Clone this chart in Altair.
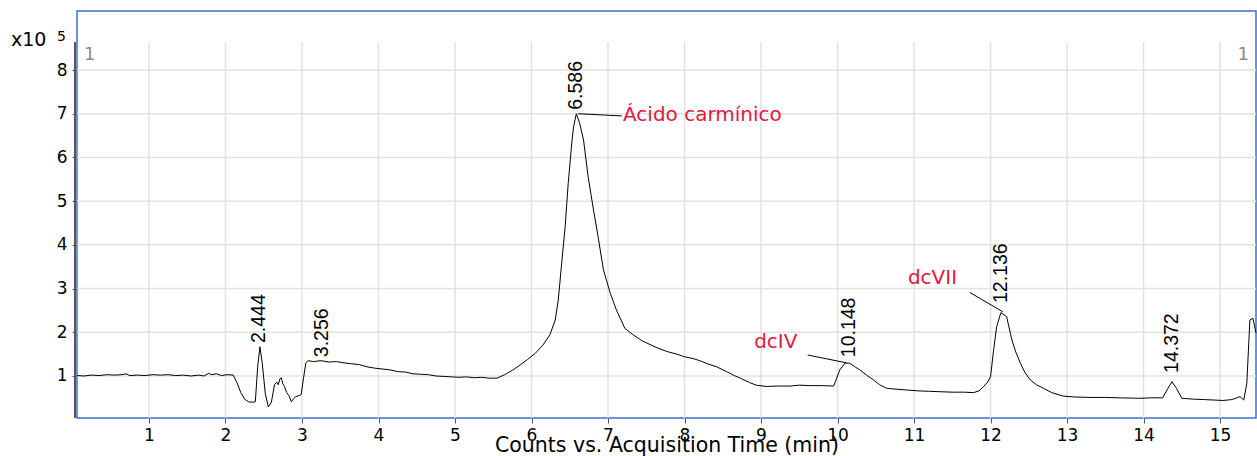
import altair as alt
import pandas as pd

# ---- data (retention time in min, counts x10^5) ----
times = [0.06, 0.15, 0.25, 0.35, 0.45, 0.55, 0.65, 0.70, 0.75, 0.85, 0.95, 1.05, 1.15, 1.25, 1.35,
         1.45, 1.55, 1.65, 1.72, 1.78, 1.82, 1.88, 1.95, 2.02, 2.10, 2.15, 2.20, 2.25, 2.30, 2.36,
         2.39, 2.42, 2.45, 2.48, 2.52, 2.56, 2.60, 2.64, 2.67, 2.69, 2.71, 2.73, 2.75, 2.77, 2.80,
         2.83, 2.86, 2.89, 2.92, 2.96, 2.99, 3.02, 3.05, 3.08, 3.15, 3.25, 3.35, 3.45, 3.55, 3.65,
         3.75, 3.85, 3.95, 4.05, 4.15, 4.25, 4.35, 4.45, 4.55, 4.65, 4.75, 4.85, 4.95, 5.05, 5.15,
         5.25, 5.35, 5.45, 5.55, 5.65, 5.75, 5.85, 5.95, 6.05, 6.15, 6.24, 6.31, 6.35, 6.39, 6.44,
         6.48, 6.53, 6.55, 6.586, 6.63, 6.68, 6.74, 6.81, 6.87, 6.94, 7.03, 7.11, 7.22, 7.33, 7.45,
         7.55, 7.65, 7.77, 7.90, 8.00, 8.11, 8.20, 8.30, 8.42, 8.55, 8.65, 8.73, 8.85, 8.94, 9.07,
         9.20, 9.38, 9.50, 9.65, 9.80, 9.95, 10.03, 10.10, 10.16, 10.22, 10.29, 10.38, 10.47, 10.55,
         10.64, 10.75, 10.90, 11.05, 11.20, 11.34, 11.50, 11.65, 11.78, 11.85, 11.91, 11.96, 12.00,
         12.04, 12.08, 12.136, 12.21, 12.28, 12.33, 12.39, 12.45, 12.52, 12.60, 12.69, 12.80, 12.95,
         13.10, 13.30, 13.50, 13.70, 13.95, 14.10, 14.25, 14.32, 14.372, 14.43, 14.50, 14.65, 14.80,
         15.04, 15.15, 15.22, 15.26, 15.31, 15.35, 15.39, 15.43, 15.47]
counts = [1.01, 1.00, 1.02, 1.01, 1.03, 1.02, 1.03, 1.05, 1.01, 1.02, 1.01, 1.03, 1.02, 1.03, 1.01,
          1.02, 1.00, 1.02, 1.00, 1.06, 1.03, 1.05, 1.01, 1.03, 1.02, 0.85, 0.62, 0.47, 0.41, 0.40,
          0.41, 1.20, 1.67, 1.30, 0.60, 0.29, 0.40, 0.80, 0.86, 0.80, 0.93, 0.96, 0.82, 0.76, 0.62,
          0.55, 0.41, 0.48, 0.53, 0.55, 0.58, 0.95, 1.30, 1.35, 1.33, 1.35, 1.32, 1.33, 1.30, 1.28,
          1.26, 1.21, 1.18, 1.16, 1.14, 1.10, 1.09, 1.05, 1.04, 1.03, 1.00, 0.99, 0.98, 0.97, 0.98,
          0.96, 0.97, 0.95, 0.95, 1.03, 1.13, 1.25, 1.38, 1.52, 1.71, 1.94, 2.28, 2.74, 3.50, 4.42,
          5.41, 6.40, 6.70, 7.00, 6.78, 6.40, 5.56, 4.80, 4.19, 3.43, 2.89, 2.51, 2.09, 1.94, 1.80,
          1.72, 1.64, 1.56, 1.50, 1.44, 1.40, 1.35, 1.28, 1.21, 1.10, 1.01, 0.95, 0.85, 0.79, 0.76,
          0.77, 0.77, 0.79, 0.78, 0.78, 0.77, 1.14, 1.30, 1.29, 1.22, 1.14, 1.02, 0.91, 0.80,
          0.72, 0.70, 0.68, 0.66, 0.65, 0.64, 0.63, 0.63, 0.62, 0.66, 0.76, 0.86, 0.98,
          1.59, 2.13, 2.45, 2.36, 1.82, 1.55, 1.29, 1.08, 0.91, 0.80, 0.72, 0.62, 0.54,
          0.52, 0.51, 0.51, 0.50, 0.49, 0.50, 0.50, 0.72, 0.87, 0.72, 0.49, 0.47, 0.46,
          0.44, 0.46, 0.50, 0.53, 0.45, 0.83, 2.28, 2.32, 1.98]

peak_rt = [2.444, 3.256, 6.586, 10.148, 12.136, 14.372]
peak_label_y = [1.755, 1.43, 7.09, 1.43, 2.67, 1.07]
peak_labels = ["2.444", "3.256", "6.586", "10.148", "12.136", "14.372"]

ann_text = ["Ácido carmínico", "dcIV", "dcVII"]
ann_x = [7.196, 8.91, 10.92]
ann_y = [6.97, 1.78, 3.24]
ann_x1 = [7.18, 9.61, 11.73]
ann_y1 = [6.95, 1.48, 2.91]
ann_x2 = [6.61, 10.12, 12.16]
ann_y2 = [7.00, 1.30, 2.47]

x_ticks = list(range(1, 16))
y_ticks = list(range(1, 9))
X_DOMAIN = [0.059, 15.47]
Y_DOMAIN = [0.039, 9.35]
GRID_TOP = 8.64

FONT = "DejaVu Sans"
RED = "#E2183F"

trace = pd.DataFrame({"t": times, "c": counts})
peaks = pd.DataFrame({"t": peak_rt, "y": peak_label_y, "label": peak_labels})
ann = pd.DataFrame({"text": ann_text, "x": ann_x, "y": ann_y,
                    "x1": ann_x1, "y1": ann_y1, "x2": ann_x2, "y2": ann_y2})
vgrid = pd.DataFrame({"t": x_ticks, "lo": [Y_DOMAIN[0]] * len(x_ticks), "hi": [GRID_TOP] * len(x_ticks)})
hgrid = pd.DataFrame({"v": y_ticks, "lo": [X_DOMAIN[0]] * len(y_ticks), "hi": [X_DOMAIN[1]] * len(y_ticks)})

xs = alt.Scale(domain=X_DOMAIN, nice=False, zero=False)
ys = alt.Scale(domain=Y_DOMAIN, nice=False, zero=False)

x_axis = alt.Axis(values=x_ticks, format="d", grid=False, domain=False, tickColor="#555555", tickSize=5,
                  labelFont=FONT, labelFontSize=17, labelColor="black", labelPadding=4,
                  labelFlush=False, labelOverlap=False,
                  title="Counts vs. Acquisition Time (min)", titleFont=FONT, titleFontSize=20.5,
                  titleFontWeight="normal", titleColor="black", titleY=33, titleBaseline="alphabetic")
y_axis = alt.Axis(values=y_ticks, format="d", grid=False, domain=False, tickColor="#555555", tickSize=5,
                  labelFont=FONT, labelFontSize=17, labelColor="black", labelPadding=5,
                  labelFlush=False, labelOverlap=False, title=None)

vg = alt.Chart(vgrid).mark_rule(color="#E2E2E2", strokeWidth=1.5).encode(
    x=alt.X("t:Q", scale=xs, axis=x_axis),
    y=alt.Y("lo:Q", scale=ys, axis=y_axis),
    y2="hi:Q",
)
hg = alt.Chart(hgrid).mark_rule(color="#E2E2E2", strokeWidth=1.5).encode(
    y=alt.Y("v:Q", scale=ys), x=alt.X("lo:Q", scale=xs), x2="hi:Q"
)
left_line = alt.Chart(vgrid.head(1)).mark_rule(color="#555555", strokeWidth=2).encode(
    x=alt.value(-2), y=alt.Y("lo:Q", scale=ys), y2="hi:Q"
)
line = alt.Chart(trace).mark_line(color="black", strokeWidth=1).encode(
    x=alt.X("t:Q", scale=xs), y=alt.Y("c:Q", scale=ys), order="t:Q"
)
plabels = alt.Chart(peaks).mark_text(angle=270, align="left", baseline="middle",
                                     font="Liberation Sans", fontSize=19.5, color="black").encode(
    x=alt.X("t:Q", scale=xs), y=alt.Y("y:Q", scale=ys), text="label:N"
)
alines = alt.Chart(ann).mark_rule(color="black", strokeWidth=1).encode(
    x=alt.X("x1:Q", scale=xs), y=alt.Y("y1:Q", scale=ys), x2="x2:Q", y2="y2:Q"
)
atext = alt.Chart(ann).mark_text(align="left", baseline="middle", font=FONT, fontSize=20,
                                 color=RED).encode(
    x=alt.X("x:Q", scale=xs), y=alt.Y("y:Q", scale=ys), text="text:N"
)
corner_l = alt.Chart(vgrid.head(1)).mark_text(align="left", baseline="alphabetic", font=FONT,
                                              fontSize=18, color="#8A8A8A", text="1").encode(
    x=alt.value(7), y=alt.value(49)
)
corner_r = alt.Chart(vgrid.head(1)).mark_text(align="right", baseline="alphabetic", font=FONT,
                                              fontSize=18, color="#8A8A8A", text="1").encode(
    x=alt.value(1172), y=alt.value(49)
)
mult = alt.Chart(vgrid.head(1)).mark_text(align="left", baseline="alphabetic", font=FONT,
                                          fontSize=19, color="black", text="x10").encode(
    x=alt.value(-66), y=alt.value(35)
)
expo = alt.Chart(vgrid.head(1)).mark_text(align="left", baseline="alphabetic", font=FONT,
                                          fontSize=14, color="black", text="5").encode(
    x=alt.value(-20), y=alt.value(30)
)

chart = alt.layer(vg, hg, left_line, line, alines, plabels, atext, corner_l, corner_r, mult, expo).properties(
    width=1179, height=407,
    padding={"left": 77, "top": 11, "right": 1, "bottom": 38},
    autosize=alt.AutoSizeParams(type="none"),
    background="white",
).configure_view(stroke="#3D6FD1", strokeWidth=1.5)

chart.save("out.html", embed_options={"renderer": "svg", "actions": False})
